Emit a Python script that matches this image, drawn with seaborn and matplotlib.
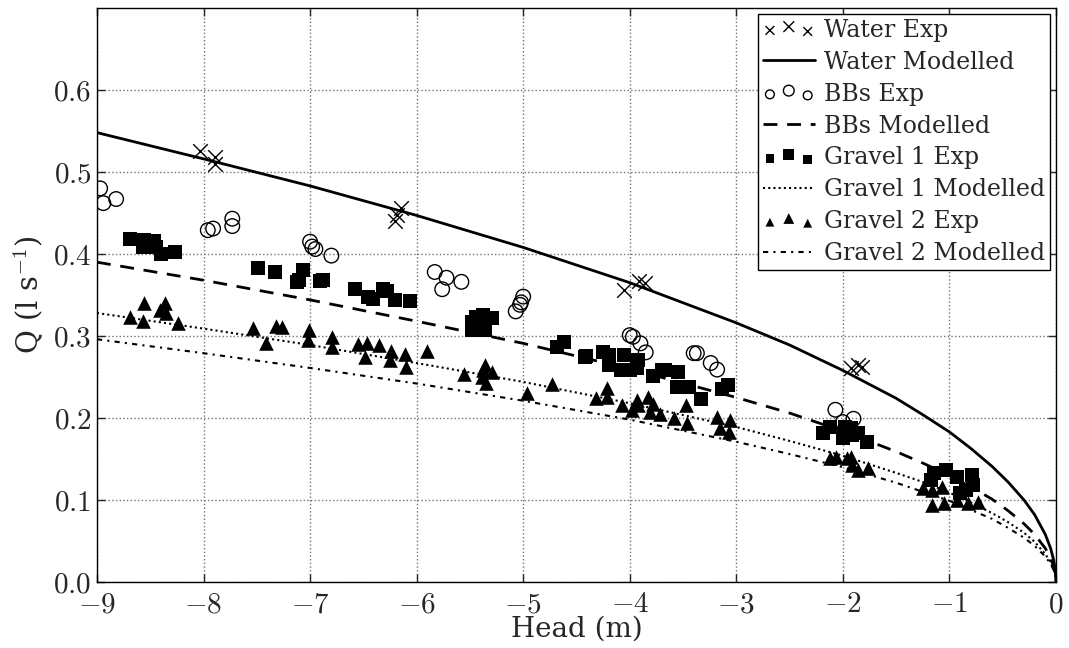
import numpy as np
import pandas as pd
import matplotlib
matplotlib.use('Agg')
import matplotlib.pyplot as plt
from matplotlib.ticker import FuncFormatter
from matplotlib.legend_handler import HandlerPathCollection
import seaborn as sns

sns.set_style('ticks')
plt.rcParams['font.family'] = ['DejaVu Serif']
plt.rcParams['mathtext.fontset'] = 'cm'

# ------------------------------------------------------------
# Experimental data (head in m, Q in l/s) read from the figure
# ------------------------------------------------------------
water_h = [-8.03, -7.89, -7.89, -6.15, -6.18, -6.2, -4.05, -3.91, -3.86, -1.92, -1.86, -1.82]
water_q = [0.526, 0.518, 0.510, 0.456, 0.447, 0.440, 0.356, 0.367, 0.365, 0.261, 0.265, 0.262]

bbs_h = [-8.97, -8.94, -8.82, -7.96, -7.91, -7.73, -7.73,
         -7.0, -6.98, -6.95, -6.8,
         -5.83, -5.72, -5.76, -5.58,
         -5.0, -5.02, -5.03, -5.07,
         -4.0, -3.9, -3.97, -3.85,
         -3.4, -3.37, -3.24, -3.18,
         -2.07, -2.0, -1.9]
bbs_q = [0.480, 0.462, 0.467, 0.429, 0.431, 0.443, 0.434,
         0.415, 0.409, 0.406, 0.398,
         0.378, 0.371, 0.357, 0.366,
         0.348, 0.341, 0.338, 0.330,
         0.301, 0.291, 0.299, 0.280,
         0.279, 0.279, 0.267, 0.259,
         0.210, 0.195, 0.199]

g1_h = [-8.69, -8.56, -8.53, -8.46, -8.45, -8.57, -8.4, -8.27,
        -7.49, -7.33, -7.07, -7.12, -6.91, -7.1, -6.88,
        -6.58, -6.46, -6.41, -6.32, -6.28, -6.2, -6.06,
        -5.48, -5.44, -5.38, -5.29, -5.36, -5.48, -5.41,
        -4.68, -4.62, -4.41,
        -4.42, -4.25, -4.19, -4.19, -4.05, -4.08, -4.0, -3.92, -3.93,
        -3.78, -3.7, -3.67, -3.55, -3.56, -3.44, -3.33, -3.13, -3.08,
        -2.19, -2.12, -1.98, -2.0, -1.92, -1.91, -1.86, -1.77,
        -1.17, -1.14, -1.03, -0.93, -0.79, -0.78, -0.84, -0.9]
g1_q = [0.418, 0.417, 0.413, 0.416, 0.409, 0.409, 0.400, 0.402,
        0.383, 0.378, 0.380, 0.366, 0.367, 0.368, 0.368,
        0.357, 0.348, 0.345, 0.357, 0.355, 0.344, 0.343,
        0.317, 0.323, 0.326, 0.322, 0.307, 0.307, 0.320,
        0.287, 0.293, 0.275,
        0.274, 0.280, 0.277, 0.265, 0.277, 0.259, 0.259, 0.271, 0.261,
        0.251, 0.259, 0.259, 0.256, 0.238, 0.238, 0.223, 0.235, 0.240,
        0.182, 0.189, 0.189, 0.176, 0.188, 0.179, 0.182, 0.171,
        0.124, 0.133, 0.137, 0.128, 0.130, 0.118, 0.112, 0.109]

g2_h = [-8.69, -8.56, -8.57, -8.41, -8.36, -8.35, -8.24,
        -7.54, -7.41, -7.32, -7.26, -7.01, -7.02, -6.79, -6.79,
        -6.55, -6.47, -6.48, -6.35, -6.24, -6.25, -6.11, -6.1, -5.9,
        -5.56, -5.36, -5.39, -5.29, -5.35, -5.38, -4.96, -4.73,
        -4.32, -4.21, -4.21, -4.07, -3.98, -3.93, -3.92, -3.83, -3.81,
        -3.78, -3.72, -3.58, -3.47, -3.46, -3.18, -3.06, -3.15, -3.07,
        -2.12, -2.06, -1.96, -1.92, -1.91, -1.86, -1.76,
        -1.25, -1.16, -1.07, -1.16, -1.05, -0.93, -0.83, -0.73]
g2_q = [0.323, 0.340, 0.318, 0.332, 0.340, 0.328, 0.316,
        0.310, 0.291, 0.312, 0.311, 0.307, 0.295, 0.299, 0.287,
        0.290, 0.291, 0.274, 0.289, 0.282, 0.271, 0.278, 0.262, 0.282,
        0.254, 0.265, 0.250, 0.256, 0.243, 0.259, 0.230, 0.241,
        0.224, 0.237, 0.226, 0.216, 0.210, 0.222, 0.216, 0.226, 0.207,
        0.217, 0.205, 0.200, 0.216, 0.194, 0.201, 0.198, 0.188, 0.183,
        0.151, 0.152, 0.151, 0.152, 0.143, 0.137, 0.139,
        0.115, 0.112, 0.116, 0.094, 0.096, 0.100, 0.096, 0.098]

# Modelled curves
model_h = [-9, -8, -7, -6, -5, -4, -3, -2.5, -2, -1.5, -1.25, -1, -0.8, -0.6,
           -0.45, -0.3, -0.2, -0.1, -0.05, -0.02, -0.005, 0]
water_model = [0.548, 0.516, 0.483, 0.447, 0.408, 0.365, 0.316, 0.289, 0.258, 0.224,
               0.204, 0.183, 0.163, 0.141, 0.122, 0.100, 0.082, 0.058, 0.041, 0.026, 0.013, 0.0]
bbs_model = [0.390, 0.368, 0.344, 0.318, 0.291, 0.260, 0.225, 0.206, 0.184, 0.159,
             0.145, 0.130, 0.116, 0.101, 0.087, 0.071, 0.058, 0.041, 0.029, 0.018, 0.009, 0.0]
g1_model = [0.328, 0.309, 0.289, 0.267, 0.244, 0.218, 0.189, 0.172, 0.154, 0.133,
            0.122, 0.109, 0.097, 0.084, 0.073, 0.060, 0.049, 0.034, 0.024, 0.015, 0.008, 0.0]
g2_model = [0.296, 0.279, 0.261, 0.242, 0.221, 0.198, 0.171, 0.156, 0.140, 0.121,
            0.110, 0.099, 0.088, 0.077, 0.066, 0.054, 0.044, 0.031, 0.022, 0.014, 0.007, 0.0]

# ------------------------------------------------------------
fig = plt.figure(figsize=(10.69, 6.48), dpi=100)
ax = fig.add_axes([0.0907, 0.1019, 0.8971, 0.8858])

kw = dict(ax=ax, color='black', legend=False)
sns.scatterplot(x=water_h, y=water_q, marker='x', s=110, linewidth=1.0,
                label='Water Exp', zorder=3, **kw)
sns.lineplot(x=model_h, y=water_model, linewidth=2, linestyle='-',
             label='Water Modelled', **kw)
sns.scatterplot(x=bbs_h, y=bbs_q, marker='o', s=110, facecolor='none',
                edgecolor='black', linewidth=1.0, label='BBs Exp', zorder=3,
                ax=ax, legend=False)
sns.lineplot(x=model_h, y=bbs_model, linewidth=2, linestyle=(0, (5, 3.5)),
             label='BBs Modelled', **kw)
sns.scatterplot(x=g1_h, y=g1_q, marker='s', s=95, linewidth=0,
                label='Gravel 1 Exp', zorder=3, **kw)
sns.lineplot(x=model_h, y=g1_model, linewidth=1.5, linestyle=(0, (1, 1.5)),
             label='Gravel 1 Modelled', **kw)
sns.scatterplot(x=g2_h, y=g2_q, marker='^', s=110, linewidth=0,
                label='Gravel 2 Exp', zorder=3, **kw)
sns.lineplot(x=model_h, y=g2_model, linewidth=1.5, linestyle=(0, (2.5, 2.5, 1, 2.5)),
             label='Gravel 2 Modelled', **kw)

ax.set_xlim(-9, 0)
ax.set_ylim(0, 0.7)
ax.set_xticks(np.arange(-9, 1, 1))
ax.set_yticks(np.arange(0, 0.61, 0.1))
ax.xaxis.set_major_formatter(FuncFormatter(lambda v, p: r'$%d$' % round(v)))
ax.yaxis.set_major_formatter(FuncFormatter(lambda v, p: r'$%.1f$' % v))
ax.tick_params(direction='in', top=True, right=True, length=6, width=1,
               labelsize=21, pad=4)
ax.tick_params(axis='x', pad=6)
ax.grid(True, color='0.45', linestyle=':', linewidth=1.0)
for sp in ax.spines.values():
    sp.set_linewidth(1.0)
    sp.set_color('black')

ax.set_xlabel('Head (m)', fontsize=20, labelpad=-2)
ax.set_ylabel(r'Q (l s$^{-1}$)', fontsize=21, labelpad=6)

handles, labels = ax.get_legend_handles_labels()
hmap = {h: HandlerPathCollection(sizes=[40, 60, 40]) for h in handles
        if isinstance(h, matplotlib.collections.PathCollection)}
leg = ax.legend(handles, labels, loc='upper right', fontsize=17, scatterpoints=3,
                scatteryoffsets=[0.375, 0.6, 0.3125], handlelength=2.2,
                handletextpad=0.4, labelspacing=0.38, borderpad=0.2,
                borderaxespad=0.25, fancybox=False, framealpha=1, handler_map=hmap)
leg.get_frame().set_edgecolor('black')
leg.get_frame().set_linewidth(1.0)

fig.savefig('out.png', dpi=100)
